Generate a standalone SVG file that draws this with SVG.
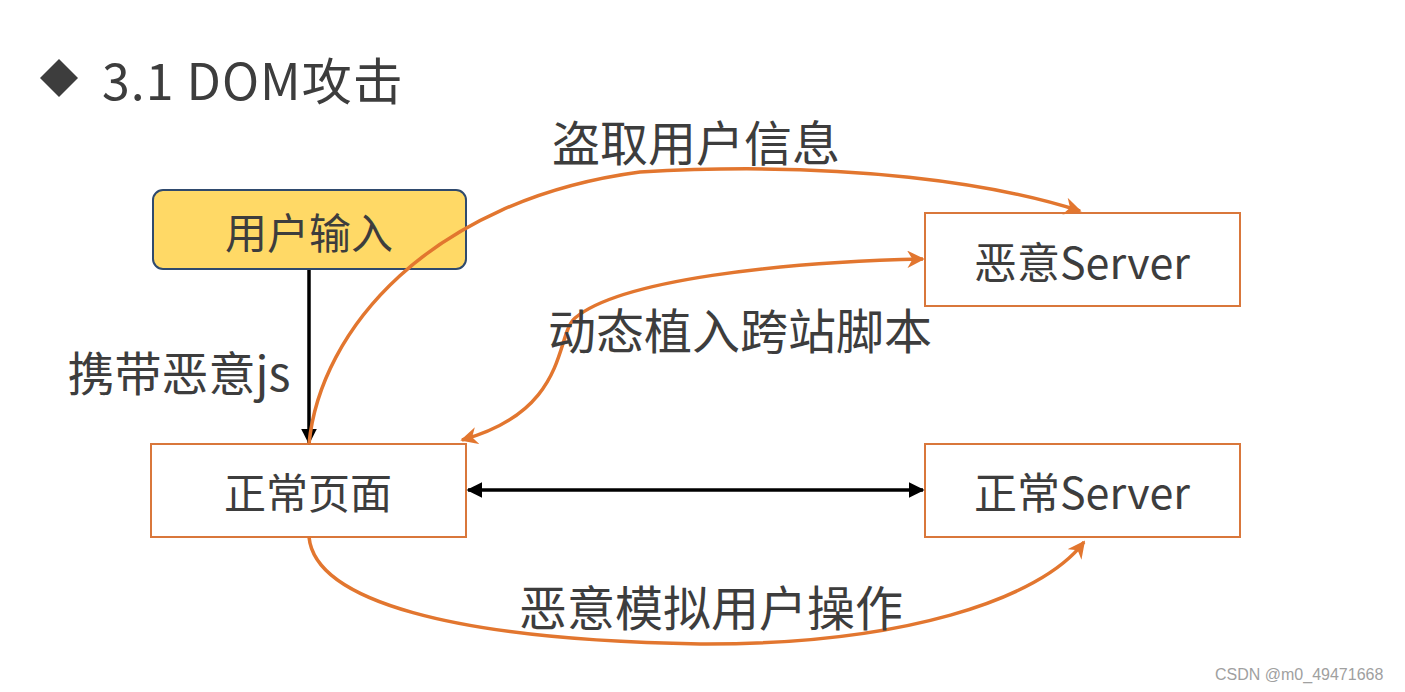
<svg xmlns="http://www.w3.org/2000/svg" width="1405" height="692" viewBox="0 0 1405 692">
<defs>
<style>
.t{font-family:"Noto Sans CJK SC","Open Sans",sans-serif;fill:#3d3d3d;dominant-baseline:central;text-anchor:middle}
.box{fill:#fff;stroke:#D9773B;stroke-width:2}
.oc{fill:none;stroke:#E2762F;stroke-width:3.5}
.bk{fill:none;stroke:#000;stroke-width:3.5}
</style>
<marker id="ao" viewBox="0 0 10 10" refX="9" refY="5" markerWidth="5" markerHeight="5" orient="auto-start-reverse" markerUnits="strokeWidth">
<path d="M0,0 L10,5 L0,10 L3,5 Z" fill="#E2762F"/>
</marker>
<marker id="ab" viewBox="0 0 10 10" refX="9" refY="5" markerWidth="4.5" markerHeight="4.5" orient="auto-start-reverse" markerUnits="strokeWidth">
<path d="M0,0 L10,5 L0,10 Z" fill="#000"/>
</marker>
</defs>
<rect width="1405" height="692" fill="#fff"/>
<g id="title">
<path d="M59,59 L78,78 L59,97 L40,78 Z" fill="#3d3d3d"/>
<text class="t" x="102" y="78" style="text-anchor:start" font-size="50" letter-spacing="1">3.1 DOM攻击</text>
</g>
<g id="user-input">
<rect x="153" y="190" width="313" height="79" rx="10" fill="#FFD966" stroke="#2F4A6E" stroke-width="2"/>
<text class="t" x="309" y="230" font-size="42">用户输入</text>
</g>
<g id="evil-server">
<rect class="box" x="925" y="213" width="315" height="93"/>
<text class="t" x="1082" y="260" font-size="43">恶意Server</text>
</g>
<g id="normal-page">
<rect class="box" x="151" y="444" width="315" height="93"/>
<text class="t" x="308" y="490" font-size="42">正常页面</text>
</g>
<g id="normal-server">
<rect class="box" x="925" y="444" width="315" height="93"/>
<text class="t" x="1082" y="490" font-size="43">正常Server</text>
</g>
<g id="connectors">
<line class="bk" x1="309" y1="270" x2="309" y2="443" marker-end="url(#ab)"/>
<line class="bk" x1="468" y1="490" x2="923" y2="490" marker-start="url(#ab)" marker-end="url(#ab)"/>
<path class="oc" d="M309,444 C320,330 430,200 640,172 C850,160 1000,185 1080,211" marker-end="url(#ao)"/>
<path class="oc" d="M923,259 C780,262 620,280 575,318 C555,335 570,410 462,440" marker-start="url(#ao)" marker-end="url(#ao)"/>
<path class="oc" d="M309,537 C315,600 450,640 700,644 C900,645 1040,600 1084,542" marker-end="url(#ao)"/>
<text class="t" x="696" y="140" font-size="48">盗取用户信息</text>
<text class="t" x="740" y="328" font-size="48">动态植入跨站脚本</text>
<text class="t" x="179" y="370" font-size="47">携带恶意js</text>
<text class="t" x="711" y="605" font-size="48">恶意模拟用户操作</text>
</g>
<text x="1215" y="680" font-family="Liberation Sans, sans-serif" font-size="16" fill="#a0a0a0">CSDN @m0_49471668</text>
</svg>
